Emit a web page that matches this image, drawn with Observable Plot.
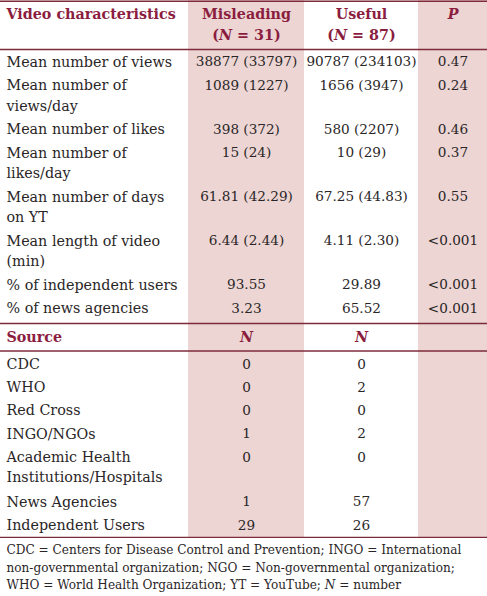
<!DOCTYPE html>
<html><head><meta charset="utf-8">
<script src="https://cdn.jsdelivr.net/npm/d3@7"></script>
<script src="https://cdn.jsdelivr.net/npm/@observablehq/plot@0.6"></script>
<style>body{margin:0;background:#fff}</style>
</head><body><div id="chart"></div>
<script>
// ---- data ----
const headerLabels = ["Video characteristics", "Misleading\n(N = 31)", "Useful\n(N = 87)", "P"];
const characteristics = ["Mean number of views", "Mean number of\nviews/day", "Mean number of likes", "Mean number of\nlikes/day", "Mean number of days\non YT", "Mean length of video\n(min)", "% of independent users", "% of news agencies"];
const misleading = ["38877 (33797)", "1089 (1227)", "398 (372)", "15 (24)", "61.81 (42.29)", "6.44 (2.44)", "93.55", "3.23"];
const useful = ["90787 (234103)", "1656 (3947)", "580 (2207)", "10 (29)", "67.25 (44.83)", "4.11 (2.30)", "29.89", "65.52"];
const pValues = ["0.47", "0.24", "0.46", "0.37", "0.55", "<0.001", "<0.001", "<0.001"];
const sourceHeader = ["Source", "N", "N", ""];
const sources = ["CDC", "WHO", "Red Cross", "INGO/NGOs", "Academic Health\nInstitutions/Hospitals", "News Agencies", "Independent Users"];
const sourceMisleading = [0, 0, 0, 1, 0, 1, 29];
const sourceUseful = [0, 2, 0, 2, 0, 57, 26];
const footnote = ["CDC = Centers for Disease Control and Prevention; INGO = International", "non-governmental organization; NGO = Non-governmental organization;", "WHO = World Health Organization; YT = YouTube; N = number"];

// ---- layout ----
const W = 487, H = 596;
const colEdges = [0, 188, 304, 418, 487];
const colX = (i) => i === 0 ? colEdges[0] + 6 : (colEdges[i] + colEdges[i + 1]) / 2;
const shade = "#ecd5d3", maroon = "#8b1d3f", ruleColor = "#7d2b3b", ink = "#2a2627";
const FS = 14.3, FSV = 13.6;

const headTexts = [], bodyTexts = [], rules = [];
const cell = (arr, col, text, y) => {
  String(text).split("\n").forEach((t, k) => arr.push({x: colX(col), y: y + k * 20.5, text: t, left: col === 0}));
};

let y = 0.75;
rules.push(y);
headerLabels.forEach((h, c) => cell(headTexts, c, h, 14));
y = 49; rules.push(y);
characteristics.forEach((lab, i) => {
  const c = y + 12.5;
  cell(bodyTexts, 0, lab, c);
  cell(bodyTexts, 1, misleading[i], c);
  cell(bodyTexts, 2, useful[i], c);
  cell(bodyTexts, 3, pValues[i], c);
  y += 23.5 + (lab.split("\n").length - 1) * 20.5;
});
y += 4; y = Math.max(y, 323); rules.push(y);
sourceHeader.forEach((h, c) => { if (h) cell(headTexts, c, h, y + 14); });
y += 27.5; rules.push(y);
sources.forEach((s, i) => {
  const c = y + 13.5;
  cell(bodyTexts, 0, s, c);
  cell(bodyTexts, 1, sourceMisleading[i], c);
  cell(bodyTexts, 2, sourceUseful[i], c);
  y += 23.2 + (s.split("\n").length - 1) * 21.5;
});
y += 2.5; rules.push(y);
const tableBottom = y;
const footTexts = footnote.map((t, k) => ({x: 6, y: tableBottom + 13 + k * 17.5, text: t}));
const shadeCols = [1, 3].map(c => ({x1: colEdges[c], x2: colEdges[c + 1], y1: 0, y2: tableBottom}));

const txt = (data, left, opts) => Plot.text(data.filter(d => d.left === left), {x: "x", y: "y", text: "text", textAnchor: left ? "start" : "middle", fontSize: FS, ...opts});

const plot = Plot.plot({
  width: W, height: H, margin: 0,
  x: {type: "linear", domain: [0, W], range: [0, W], axis: null},
  y: {type: "linear", domain: [0, H], range: [0, H], axis: null},
  style: {fontFamily: "DejaVu Serif", background: "#fff"},
  marks: [
    Plot.rect(shadeCols, {x1: "x1", x2: "x2", y1: "y1", y2: "y2", fill: shade}),
    Plot.ruleY(rules, {x1: 0, x2: W, stroke: ruleColor, strokeWidth: 1.4}),
    txt(headTexts, true, {fill: maroon, fontWeight: "bold"}),
    txt(headTexts, false, {fill: maroon, fontWeight: "bold"}),
    txt(bodyTexts, true, {fill: ink}),
    txt(bodyTexts, false, {fill: ink, fontSize: FSV}),
    Plot.text(footTexts, {x: "x", y: "y", text: "text", textAnchor: "start", fill: ink, fontSize: 12.1})
  ]
});
document.getElementById("chart").append(plot);

// italic N / P
d3.select(plot).selectAll("text").each(function () {
  const t = this.textContent;
  if (t === "P" || t === "N") { this.setAttribute("font-style", "italic"); return; }
  if (/\bN\b/.test(t) && this.childElementCount === 0) {
    const parts = t.split(/(\bN\b)/);
    this.textContent = "";
    parts.forEach(p => {
      if (!p) return;
      const ts = document.createElementNS("http://www.w3.org/2000/svg", "tspan");
      ts.textContent = p;
      if (p === "N") ts.setAttribute("font-style", "italic");
      this.appendChild(ts);
    });
  }
});
</script>
</body></html>
